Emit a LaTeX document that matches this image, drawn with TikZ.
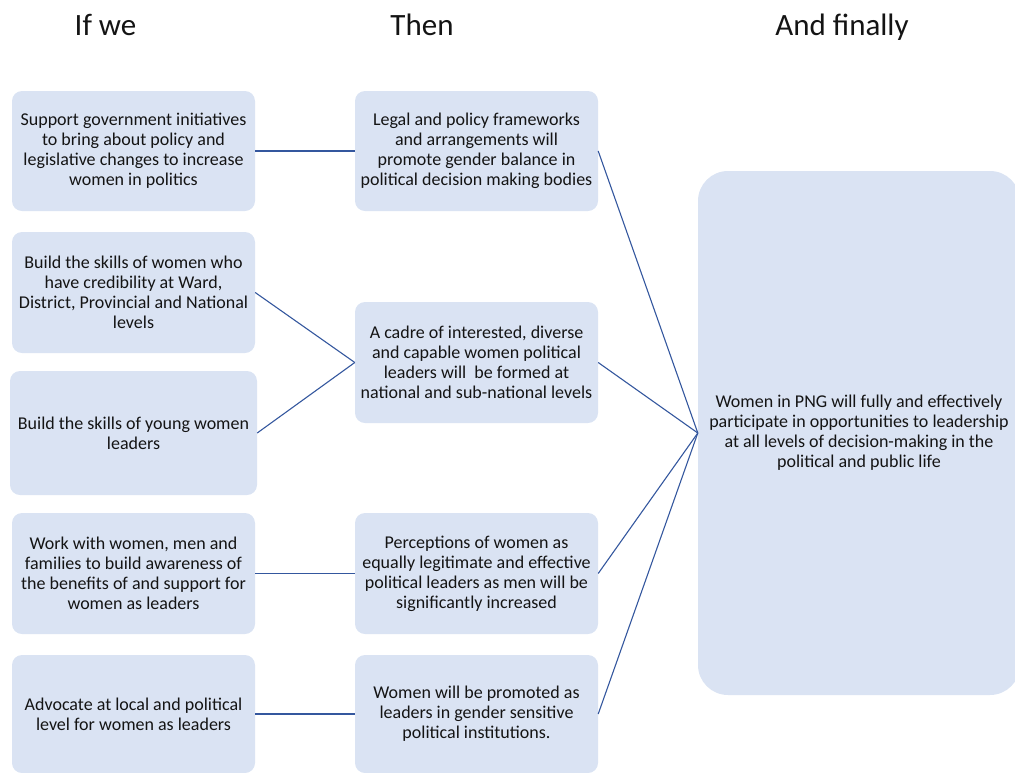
\documentclass[tikz,border=0pt]{standalone}
\usepackage{fontspec}
\setmainfont{Carlito}
\definecolor{boxfill}{RGB}{218,227,243}
\definecolor{linkcol}{RGB}{52,87,158}
\definecolor{txt}{RGB}{20,20,20}
\begin{document}
\begin{tikzpicture}[x=1pt,y=-1pt,
  card/.style={rectangle, fill=boxfill, rounded corners=10pt, align=center,
    inner sep=0pt, text=txt, font=\fontsize{18}{20}\selectfont},
  head/.style={text=txt, font=\fontsize{31}{36}\selectfont, inner sep=0pt, anchor=base},
  link/.style={draw=linkcol, line width=1.1pt}]
\useasboundingbox (0,0) rectangle (1015,772);
\begin{scope}
\clip (0,0) rectangle (1015,772);
% headers
\node[head] (h1) at (105.5,35) {If we};
\node[head] (h2) at (422,35) {Then};
\node[head] (h3) at (842,35) {And finally};
% left column
\node[card, minimum width=243pt, minimum height=120pt] (L1) at (133.5,151)
  {Support government initiatives\\to bring about policy and\\legislative changes to increase\\women in politics};
\node[card, minimum width=243pt, minimum height=121pt] (L2) at (133.5,292.5)
  {Build the skills of women who\\have credibility at Ward,\\District, Provincial and National\\levels};
\node[card, minimum width=247pt, minimum height=124pt] (L3) at (133.5,433)
  {Build the skills of young women\\leaders};
\node[card, minimum width=243pt, minimum height=121pt] (L4) at (133.5,573.5)
  {Work with women, men and\\families to build awareness of\\the benefits of and support for\\women as leaders};
\node[card, minimum width=243pt, minimum height=118pt] (L5) at (133.5,714)
  {Advocate at local and political\\level for women as leaders};
% middle column
\node[card, minimum width=243pt, minimum height=120pt] (M1) at (476.5,151)
  {Legal and policy frameworks\\and arrangements will\\promote gender balance in\\political decision making bodies};
\node[card, minimum width=243pt, minimum height=121pt] (M2) at (476.5,362.5)
  {A cadre of interested, diverse\\and capable women political\\leaders will\ \ be formed at\\national and sub-national levels};
\node[card, minimum width=243pt, minimum height=121pt] (M3) at (476.5,573.5)
  {Perceptions of women as\\equally legitimate and effective\\political leaders as men will be\\significantly increased};
\node[card, minimum width=243pt, minimum height=118pt] (M4) at (476.5,714)
  {Women will be promoted as\\leaders in gender sensitive\\political institutions.};
% right box
\node[card, rounded corners=30pt, minimum width=322pt, minimum height=524pt] (R) at (859,433)
  {Women in PNG will fully and effectively\\participate in opportunities to leadership\\at all levels of decision-making in the\\political and public life};
% connectors
\draw[link] (L1.east) -- (M1.west);
\draw[link] (L2.east) -- (M2.west);
\draw[link] (L3.east) -- (M2.west);
\draw[link] (L4.east) -- (M3.west);
\draw[link] (L5.east) -- (M4.west);
\draw[link] (M1.east) -- (R.west);
\draw[link] (M2.east) -- (R.west);
\draw[link] (M3.east) -- (R.west);
\draw[link] (M4.east) -- (R.west);
\end{scope}
\end{tikzpicture}
\end{document}
